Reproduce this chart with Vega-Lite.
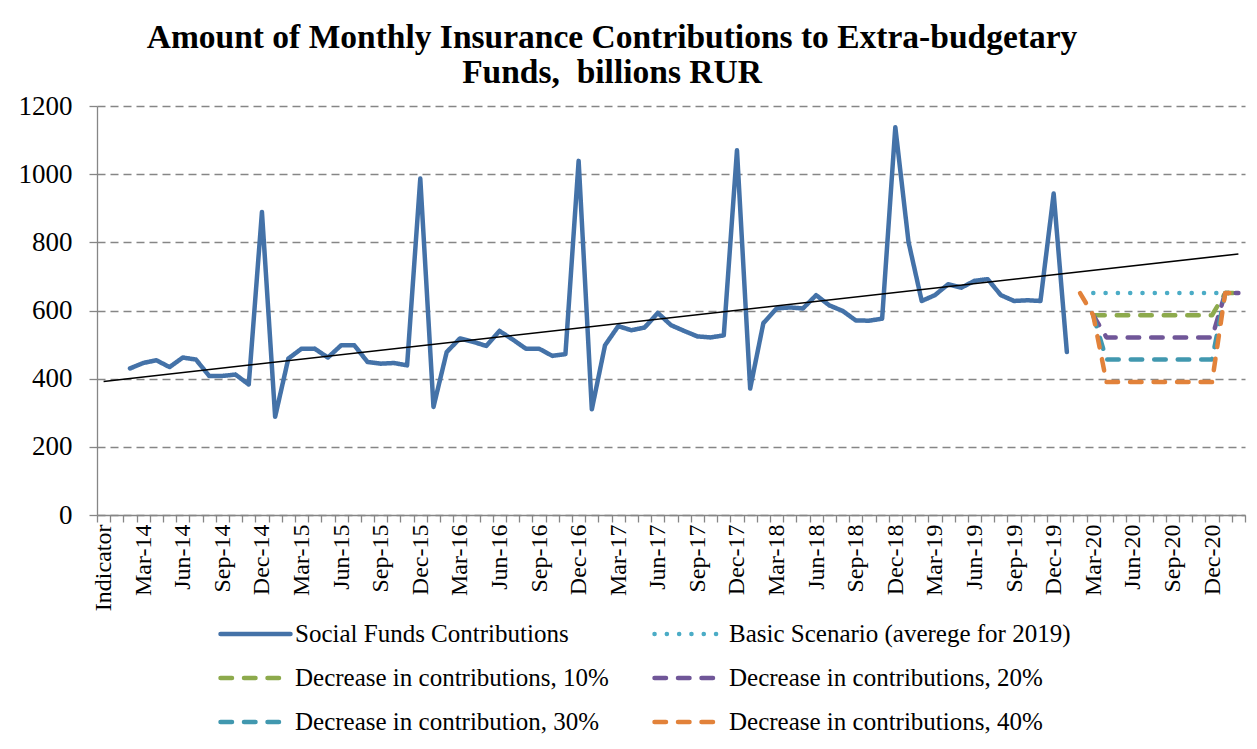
{
  "$schema": "https://vega.github.io/schema/vega-lite/v6.json",
  "width": 1148,
  "height": 409,
  "autosize": {"type": "none"},
  "padding": {"left": 97, "top": 106, "right": 12, "bottom": 234},
  "background": "white",
  "title": {
    "text": ["Amount of Monthly Insurance Contributions to Extra-budgetary", "Funds,\u00a0 billions RUR"],
    "font": "Liberation Serif",
    "fontSize": 33.5,
    "fontWeight": "bold",
    "color": "black",
    "anchor": "middle",
    "dx": -59,
    "offset": 2,
    "lineHeight": 35
  },
  "datasets": {
    "series": [
      {"m": "Feb-14", "s": "Social Funds Contributions", "v": 430},
      {"m": "Mar-14", "s": "Social Funds Contributions", "v": 446},
      {"m": "Apr-14", "s": "Social Funds Contributions", "v": 454},
      {"m": "May-14", "s": "Social Funds Contributions", "v": 434},
      {"m": "Jun-14", "s": "Social Funds Contributions", "v": 462},
      {"m": "Jul-14", "s": "Social Funds Contributions", "v": 456},
      {"m": "Aug-14", "s": "Social Funds Contributions", "v": 408},
      {"m": "Sep-14", "s": "Social Funds Contributions", "v": 408},
      {"m": "Oct-14", "s": "Social Funds Contributions", "v": 412},
      {"m": "Nov-14", "s": "Social Funds Contributions", "v": 383},
      {"m": "Dec-14", "s": "Social Funds Contributions", "v": 889},
      {"m": "Jan-15", "s": "Social Funds Contributions", "v": 288},
      {"m": "Feb-15", "s": "Social Funds Contributions", "v": 459},
      {"m": "Mar-15", "s": "Social Funds Contributions", "v": 488},
      {"m": "Apr-15", "s": "Social Funds Contributions", "v": 488},
      {"m": "May-15", "s": "Social Funds Contributions", "v": 462},
      {"m": "Jun-15", "s": "Social Funds Contributions", "v": 498},
      {"m": "Jul-15", "s": "Social Funds Contributions", "v": 498},
      {"m": "Aug-15", "s": "Social Funds Contributions", "v": 449},
      {"m": "Sep-15", "s": "Social Funds Contributions", "v": 444},
      {"m": "Oct-15", "s": "Social Funds Contributions", "v": 446},
      {"m": "Nov-15", "s": "Social Funds Contributions", "v": 439},
      {"m": "Dec-15", "s": "Social Funds Contributions", "v": 987},
      {"m": "Jan-16", "s": "Social Funds Contributions", "v": 317},
      {"m": "Feb-16", "s": "Social Funds Contributions", "v": 478},
      {"m": "Mar-16", "s": "Social Funds Contributions", "v": 518},
      {"m": "Apr-16", "s": "Social Funds Contributions", "v": 508},
      {"m": "May-16", "s": "Social Funds Contributions", "v": 496},
      {"m": "Jun-16", "s": "Social Funds Contributions", "v": 540},
      {"m": "Jul-16", "s": "Social Funds Contributions", "v": 515},
      {"m": "Aug-16", "s": "Social Funds Contributions", "v": 488},
      {"m": "Sep-16", "s": "Social Funds Contributions", "v": 488},
      {"m": "Oct-16", "s": "Social Funds Contributions", "v": 467},
      {"m": "Nov-16", "s": "Social Funds Contributions", "v": 472},
      {"m": "Dec-16", "s": "Social Funds Contributions", "v": 1039},
      {"m": "Jan-17", "s": "Social Funds Contributions", "v": 310},
      {"m": "Feb-17", "s": "Social Funds Contributions", "v": 498},
      {"m": "Mar-17", "s": "Social Funds Contributions", "v": 554},
      {"m": "Apr-17", "s": "Social Funds Contributions", "v": 542},
      {"m": "May-17", "s": "Social Funds Contributions", "v": 550},
      {"m": "Jun-17", "s": "Social Funds Contributions", "v": 593},
      {"m": "Jul-17", "s": "Social Funds Contributions", "v": 557},
      {"m": "Aug-17", "s": "Social Funds Contributions", "v": 540},
      {"m": "Sep-17", "s": "Social Funds Contributions", "v": 524},
      {"m": "Oct-17", "s": "Social Funds Contributions", "v": 521},
      {"m": "Nov-17", "s": "Social Funds Contributions", "v": 527},
      {"m": "Dec-17", "s": "Social Funds Contributions", "v": 1070},
      {"m": "Jan-18", "s": "Social Funds Contributions", "v": 371},
      {"m": "Feb-18", "s": "Social Funds Contributions", "v": 563},
      {"m": "Mar-18", "s": "Social Funds Contributions", "v": 606},
      {"m": "Apr-18", "s": "Social Funds Contributions", "v": 609},
      {"m": "May-18", "s": "Social Funds Contributions", "v": 606},
      {"m": "Jun-18", "s": "Social Funds Contributions", "v": 645},
      {"m": "Jul-18", "s": "Social Funds Contributions", "v": 615},
      {"m": "Aug-18", "s": "Social Funds Contributions", "v": 599},
      {"m": "Sep-18", "s": "Social Funds Contributions", "v": 571},
      {"m": "Oct-18", "s": "Social Funds Contributions", "v": 570},
      {"m": "Nov-18", "s": "Social Funds Contributions", "v": 576},
      {"m": "Dec-18", "s": "Social Funds Contributions", "v": 1138},
      {"m": "Jan-19", "s": "Social Funds Contributions", "v": 801},
      {"m": "Feb-19", "s": "Social Funds Contributions", "v": 628},
      {"m": "Mar-19", "s": "Social Funds Contributions", "v": 645},
      {"m": "Apr-19", "s": "Social Funds Contributions", "v": 677},
      {"m": "May-19", "s": "Social Funds Contributions", "v": 667},
      {"m": "Jun-19", "s": "Social Funds Contributions", "v": 687},
      {"m": "Jul-19", "s": "Social Funds Contributions", "v": 692},
      {"m": "Aug-19", "s": "Social Funds Contributions", "v": 645},
      {"m": "Sep-19", "s": "Social Funds Contributions", "v": 628},
      {"m": "Oct-19", "s": "Social Funds Contributions", "v": 630},
      {"m": "Nov-19", "s": "Social Funds Contributions", "v": 628},
      {"m": "Dec-19", "s": "Social Funds Contributions", "v": 943},
      {"m": "Jan-20", "s": "Social Funds Contributions", "v": 478},

      {"m": "Mar-20", "s": "Basic Scenario (averege for 2019)", "v": 651},
      {"m": "Apr-20", "s": "Basic Scenario (averege for 2019)", "v": 651},
      {"m": "May-20", "s": "Basic Scenario (averege for 2019)", "v": 651},
      {"m": "Jun-20", "s": "Basic Scenario (averege for 2019)", "v": 651},
      {"m": "Jul-20", "s": "Basic Scenario (averege for 2019)", "v": 651},
      {"m": "Aug-20", "s": "Basic Scenario (averege for 2019)", "v": 651},
      {"m": "Sep-20", "s": "Basic Scenario (averege for 2019)", "v": 651},
      {"m": "Oct-20", "s": "Basic Scenario (averege for 2019)", "v": 651},
      {"m": "Nov-20", "s": "Basic Scenario (averege for 2019)", "v": 651},
      {"m": "Dec-20", "s": "Basic Scenario (averege for 2019)", "v": 651},
      {"m": "Jan-21", "s": "Basic Scenario (averege for 2019)", "v": 651},
      {"m": "Feb-21", "s": "Basic Scenario (averege for 2019)", "v": 651},

      {"m": "Mar-20", "s": "Decrease in contributions, 10%", "v": 586},
      {"m": "Apr-20", "s": "Decrease in contributions, 10%", "v": 586},
      {"m": "May-20", "s": "Decrease in contributions, 10%", "v": 586},
      {"m": "Jun-20", "s": "Decrease in contributions, 10%", "v": 586},
      {"m": "Jul-20", "s": "Decrease in contributions, 10%", "v": 586},
      {"m": "Aug-20", "s": "Decrease in contributions, 10%", "v": 586},
      {"m": "Sep-20", "s": "Decrease in contributions, 10%", "v": 586},
      {"m": "Oct-20", "s": "Decrease in contributions, 10%", "v": 586},
      {"m": "Nov-20", "s": "Decrease in contributions, 10%", "v": 586},
      {"m": "Dec-20", "s": "Decrease in contributions, 10%", "v": 586},
      {"m": "Jan-21", "s": "Decrease in contributions, 10%", "v": 651},
      {"m": "Feb-21", "s": "Decrease in contributions, 10%", "v": 651},

      {"m": "Mar-20", "s": "Decrease in contributions, 20%", "v": 586},
      {"m": "Apr-20", "s": "Decrease in contributions, 20%", "v": 521},
      {"m": "May-20", "s": "Decrease in contributions, 20%", "v": 521},
      {"m": "Jun-20", "s": "Decrease in contributions, 20%", "v": 521},
      {"m": "Jul-20", "s": "Decrease in contributions, 20%", "v": 521},
      {"m": "Aug-20", "s": "Decrease in contributions, 20%", "v": 521},
      {"m": "Sep-20", "s": "Decrease in contributions, 20%", "v": 521},
      {"m": "Oct-20", "s": "Decrease in contributions, 20%", "v": 521},
      {"m": "Nov-20", "s": "Decrease in contributions, 20%", "v": 521},
      {"m": "Dec-20", "s": "Decrease in contributions, 20%", "v": 521},
      {"m": "Jan-21", "s": "Decrease in contributions, 20%", "v": 651},
      {"m": "Feb-21", "s": "Decrease in contributions, 20%", "v": 651},

      {"m": "Mar-20", "s": "Decrease in contribution, 30%", "v": 586},
      {"m": "Apr-20", "s": "Decrease in contribution, 30%", "v": 456},
      {"m": "May-20", "s": "Decrease in contribution, 30%", "v": 456},
      {"m": "Jun-20", "s": "Decrease in contribution, 30%", "v": 456},
      {"m": "Jul-20", "s": "Decrease in contribution, 30%", "v": 456},
      {"m": "Aug-20", "s": "Decrease in contribution, 30%", "v": 456},
      {"m": "Sep-20", "s": "Decrease in contribution, 30%", "v": 456},
      {"m": "Oct-20", "s": "Decrease in contribution, 30%", "v": 456},
      {"m": "Nov-20", "s": "Decrease in contribution, 30%", "v": 456},
      {"m": "Dec-20", "s": "Decrease in contribution, 30%", "v": 456},
      {"m": "Jan-21", "s": "Decrease in contribution, 30%", "v": 651},
      {"m": "Feb-21", "s": "Decrease in contribution, 30%", "v": 651},

      {"m": "Feb-20", "s": "Decrease in contributions, 40%", "v": 651},
      {"m": "Mar-20", "s": "Decrease in contributions, 40%", "v": 586},
      {"m": "Apr-20", "s": "Decrease in contributions, 40%", "v": 390},
      {"m": "May-20", "s": "Decrease in contributions, 40%", "v": 390},
      {"m": "Jun-20", "s": "Decrease in contributions, 40%", "v": 390},
      {"m": "Jul-20", "s": "Decrease in contributions, 40%", "v": 390},
      {"m": "Aug-20", "s": "Decrease in contributions, 40%", "v": 390},
      {"m": "Sep-20", "s": "Decrease in contributions, 40%", "v": 390},
      {"m": "Oct-20", "s": "Decrease in contributions, 40%", "v": 390},
      {"m": "Nov-20", "s": "Decrease in contributions, 40%", "v": 390},
      {"m": "Dec-20", "s": "Decrease in contributions, 40%", "v": 390},
      {"m": "Jan-21", "s": "Decrease in contributions, 40%", "v": 651},
      {"m": "Feb-21", "s": "Decrease in contributions, 40%", "v": 651}
    ],
    "trend": [
      {"m": "Indicator", "v": 392},
      {"m": "Feb-21", "v": 766}
    ]
  },
  "layer": [
    {
      "data": {"name": "series"},
      "mark": {"type": "line", "strokeWidth": 4.5, "strokeCap": "round", "strokeJoin": "round"},
      "encoding": {
        "x": {
          "field": "m",
          "type": "ordinal",
          "bandPosition": 0.5,
          "scale": {
            "type": "band",
            "paddingInner": 0,
            "paddingOuter": 0,
            "domain": ["Indicator",
              "Jan-14","Feb-14","Mar-14","Apr-14","May-14","Jun-14","Jul-14","Aug-14","Sep-14","Oct-14","Nov-14","Dec-14",
              "Jan-15","Feb-15","Mar-15","Apr-15","May-15","Jun-15","Jul-15","Aug-15","Sep-15","Oct-15","Nov-15","Dec-15",
              "Jan-16","Feb-16","Mar-16","Apr-16","May-16","Jun-16","Jul-16","Aug-16","Sep-16","Oct-16","Nov-16","Dec-16",
              "Jan-17","Feb-17","Mar-17","Apr-17","May-17","Jun-17","Jul-17","Aug-17","Sep-17","Oct-17","Nov-17","Dec-17",
              "Jan-18","Feb-18","Mar-18","Apr-18","May-18","Jun-18","Jul-18","Aug-18","Sep-18","Oct-18","Nov-18","Dec-18",
              "Jan-19","Feb-19","Mar-19","Apr-19","May-19","Jun-19","Jul-19","Aug-19","Sep-19","Oct-19","Nov-19","Dec-19",
              "Jan-20","Feb-20","Mar-20","Apr-20","May-20","Jun-20","Jul-20","Aug-20","Sep-20","Oct-20","Nov-20","Dec-20",
              "Jan-21","Feb-21"]
          },
          "axis": {
            "title": null,
            "tickBand": "extent",
            "tickSize": 7,
            "labelAngle": 270,
            "labelFontSize": 24,
            "labelPadding": 2,
            "labelOverlap": false,
            "labelBound": false,
            "grid": false,
            "labelExpr": "indexof(['Ind','Mar','Jun','Sep','Dec'], slice(datum.label, 0, 3)) >= 0 ? datum.label : ''"
          }
        },
        "y": {
          "field": "v",
          "type": "quantitative",
          "scale": {"domain": [0, 1200], "nice": false},
          "axis": {
            "title": null,
            "values": [0, 200, 400, 600, 800, 1000, 1200],
            "format": "d",
            "tickSize": 8,
            "labelPadding": 17,
            "labelFontSize": 27,
            "grid": true,
            "gridColor": "#868686",
            "gridDash": [8, 5],
            "gridWidth": 1.3
          }
        },
        "order": {"value": null},
        "color": {
          "field": "s",
          "type": "nominal",
          "scale": {
            "domain": ["Social Funds Contributions", "Basic Scenario (averege for 2019)", "Decrease in contributions, 10%", "Decrease in contributions, 20%", "Decrease in contribution, 30%", "Decrease in contributions, 40%"],
            "range": ["#4472A8", "#4BACC6", "#8DAA4C", "#705698", "#4198AF", "#E2823A"]
          },
          "legend": {
            "title": null,
            "orient": "none",
            "direction": "horizontal",
            "legendX": 121,
            "legendY": 508,
            "columns": 2,
            "columnPadding": 36,
            "rowPadding": 11,
            "symbolType": "M-1,0H3",
            "symbolSize": 1225,
            "symbolStrokeWidth": 4.5,
            "labelFontSize": 25,
            "labelOffset": 37,
            "labelLimit": 600,
            "labelFont": "Liberation Serif",
            "labelColor": "black",
            "encode": {
              "symbols": {"update": {"strokeCap": {"value": "round"}}}
            }
          }
        },
        "strokeDash": {
          "field": "s",
          "type": "nominal",
          "scale": {
            "domain": ["Social Funds Contributions", "Basic Scenario (averege for 2019)", "Decrease in contributions, 10%", "Decrease in contributions, 20%", "Decrease in contribution, 30%", "Decrease in contributions, 40%"],
            "range": [[1, 0], [0.1, 12.2], [11.5, 12], [11.5, 12], [11.5, 12], [11.5, 12]]
          },
          "legend": {
            "title": null,
            "orient": "none",
            "direction": "horizontal",
            "legendX": 121,
            "legendY": 508,
            "columns": 2,
            "columnPadding": 36,
            "rowPadding": 11,
            "symbolType": "M-1,0H3",
            "symbolSize": 1225,
            "symbolStrokeWidth": 4.5,
            "labelFontSize": 25,
            "labelOffset": 37,
            "labelLimit": 600,
            "labelFont": "Liberation Serif",
            "labelColor": "black",
            "encode": {
              "symbols": {"update": {"strokeCap": {"value": "round"}}}
            }
          }
        }
      }
    },
    {
      "data": {"name": "trend"},
      "mark": {"type": "line", "color": "black", "strokeWidth": 1.5},
      "encoding": {
        "x": {"field": "m", "type": "ordinal", "bandPosition": 0.5},
        "y": {"field": "v", "type": "quantitative"}
      }
    }
  ],
  "config": {
    "font": "Liberation Serif",
    "view": {"stroke": null},
    "legend": {"labelFont": "Liberation Serif"},
    "axis": {
      "domainColor": "#868686",
      "domainWidth": 1.3,
      "tickColor": "#868686",
      "tickWidth": 1.3,
      "labelColor": "black",
      "labelFont": "Liberation Serif"
    }
  }
}
